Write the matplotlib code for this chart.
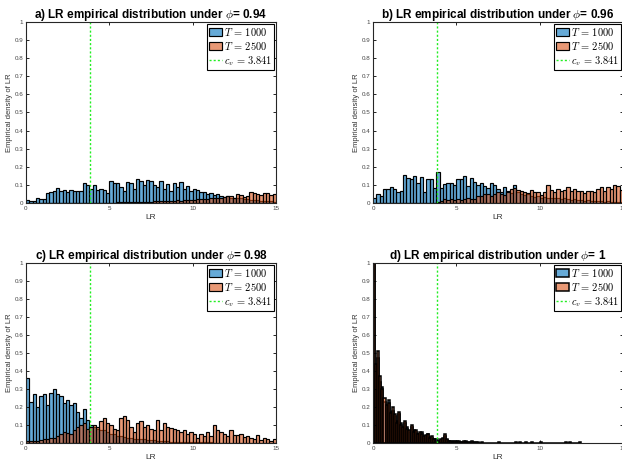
import numpy as np
import matplotlib.pyplot as plt

plt.rcParams['font.family'] = ['Liberation Sans', 'DejaVu Sans']
plt.rcParams['mathtext.fontset'] = 'cm'

# bin width of the histograms (panels a-c, panel d)
bin_w = 0.2
bin_w_d = 0.125
c_v = 3.841

titles = ['a) LR empirical distribution under $\\phi$= 0.94',
          'b) LR empirical distribution under $\\phi$= 0.96',
          'c) LR empirical distribution under $\\phi$= 0.98',
          'd) LR empirical distribution under $\\phi$= 1']

# densities per bin, T = 1000 and T = 2500
a_t1000 = [0.017, 0.013, 0.013, 0.03, 0.024, 0.022, 0.055, 0.06, 0.065, 0.083,
           0.068, 0.072, 0.063, 0.072, 0.065, 0.065, 0.065, 0.11, 0.098, 0.076,
           0.1, 0.074, 0.08, 0.072, 0.054, 0.124, 0.111, 0.109, 0.09, 0.068,
           0.117, 0.109, 0.08, 0.13, 0.124, 0.102, 0.128, 0.124, 0.102, 0.087,
           0.12, 0.08, 0.106, 0.068, 0.109, 0.09, 0.117, 0.076, 0.094, 0.065,
           0.08, 0.072, 0.063, 0.061, 0.05, 0.055, 0.046, 0.05, 0.04, 0.031,
           0.039, 0.03, 0.03, 0.025, 0.027, 0.02, 0.022, 0.018, 0.017, 0.014,
           0.012, 0.013, 0.01, 0.009, 0.008]
a_t2500 = [0.0] * 25 + [
           0.002, 0.002, 0.003, 0.004, 0.004, 0.005, 0.005, 0.006, 0.006, 0.007,
           0.007, 0.008, 0.008, 0.009, 0.01, 0.009, 0.011, 0.012, 0.012, 0.013,
           0.014, 0.013, 0.015, 0.016, 0.018, 0.017, 0.02, 0.022, 0.02, 0.024,
           0.026, 0.028, 0.03, 0.026, 0.034, 0.036, 0.038, 0.028, 0.05, 0.045,
           0.032, 0.038, 0.06, 0.055, 0.05, 0.042, 0.056, 0.055, 0.046, 0.05]

b_t1000 = [0.03, 0.048, 0.04, 0.075, 0.08, 0.09, 0.075, 0.06, 0.065, 0.155,
           0.14, 0.13, 0.15, 0.11, 0.145, 0.06, 0.13, 0.13, 0.085, 0.17,
           0.085, 0.105, 0.11, 0.11, 0.1, 0.13, 0.13, 0.15, 0.095, 0.14,
           0.115, 0.1, 0.11, 0.095, 0.085, 0.11, 0.1, 0.08, 0.06, 0.09,
           0.065, 0.055, 0.1, 0.06, 0.05, 0.045, 0.05, 0.04, 0.035, 0.04,
           0.03, 0.035, 0.03, 0.025, 0.03, 0.025, 0.02, 0.025, 0.02, 0.018,
           0.02, 0.015, 0.015, 0.012, 0.015, 0.012, 0.01, 0.012, 0.01, 0.008,
           0.01, 0.008, 0.007, 0.006, 0.006]
b_t2500 = [0.0] * 19 + [0.005,
           0.01, 0.02, 0.015, 0.02, 0.015, 0.02, 0.015, 0.02, 0.03, 0.02,
           0.02, 0.04, 0.04, 0.05, 0.05, 0.04, 0.05, 0.06, 0.05, 0.045,
           0.06, 0.08, 0.085, 0.07, 0.065, 0.06, 0.055, 0.07, 0.06, 0.06,
           0.045, 0.06, 0.1, 0.07, 0.06, 0.08, 0.065, 0.07, 0.09, 0.065,
           0.075, 0.065, 0.065, 0.055, 0.065, 0.065, 0.06, 0.08, 0.09, 0.065,
           0.09, 0.08, 0.1, 0.095, 0.07]

c_t1000 = [0.36, 0.23, 0.27, 0.2, 0.26, 0.27, 0.21, 0.28, 0.3, 0.27,
           0.26, 0.22, 0.24, 0.21, 0.22, 0.17, 0.14, 0.19, 0.13, 0.1,
           0.09, 0.08, 0.07, 0.07, 0.06, 0.05, 0.05, 0.04, 0.04, 0.035,
           0.03, 0.03, 0.025, 0.025, 0.02, 0.02, 0.018, 0.015, 0.015, 0.012,
           0.012, 0.01, 0.01, 0.008, 0.008, 0.007, 0.006, 0.006, 0.005, 0.005,
           0.004, 0.004, 0.004, 0.003, 0.003, 0.003, 0.002, 0.002, 0.002, 0.002]
c_t2500 = [0.01, 0.012, 0.01, 0.012, 0.015, 0.02, 0.025, 0.03, 0.03, 0.04,
           0.05, 0.06, 0.055, 0.05, 0.075, 0.09, 0.1, 0.11, 0.08, 0.09,
           0.1, 0.09, 0.12, 0.14, 0.11, 0.1, 0.08, 0.07, 0.14, 0.15,
           0.13, 0.09, 0.06, 0.11, 0.12, 0.09, 0.1, 0.08, 0.07, 0.13,
           0.07, 0.11, 0.09, 0.085, 0.08, 0.075, 0.06, 0.07, 0.05, 0.06,
           0.05, 0.03, 0.05, 0.04, 0.06, 0.04, 0.1, 0.07, 0.06, 0.05,
           0.04, 0.07, 0.045, 0.045, 0.05, 0.035, 0.04, 0.03, 0.02, 0.045,
           0.015, 0.03, 0.02, 0.01, 0.02]

d_t1000 = [1.05, 0.43, 0.47, 0.34, 0.31, 0.23, 0.2, 0.24, 0.17, 0.18,
           0.15, 0.12, 0.16, 0.11, 0.08, 0.11, 0.09, 0.06, 0.09, 0.07,
           0.06, 0.05, 0.05, 0.06, 0.03, 0.04, 0.05, 0.035, 0.03, 0.025,
           0.02, 0.01, 0.015, 0.02, 0.04, 0.015, 0.01, 0.005, 0.01, 0.005,
           0.01, 0.005, 0.005, 0.005, 0.01, 0.005, 0.0, 0.005, 0.005, 0.0]
d_t2500 = [1.05, 0.44, 0.51, 0.37, 0.3, 0.25, 0.21, 0.22, 0.165, 0.2,
           0.16, 0.11, 0.17, 0.1, 0.09, 0.12, 0.08, 0.07, 0.1, 0.06,
           0.07, 0.05, 0.06, 0.05, 0.04, 0.045, 0.05, 0.03, 0.04, 0.02,
           0.01, 0.005, 0.02, 0.03, 0.05, 0.02, 0.01, 0.01, 0.005, 0.01,
           0.005, 0.01, 0.005, 0.01, 0.005, 0.0, 0.005, 0.01, 0.0, 0.005,
           0.005, 0.0, 0.008, 0.0, 0.0, 0.0, 0.0, 0.0, 0.0, 0.0,
           0.005, 0.0, 0.0, 0.0, 0.0, 0.0, 0.0, 0.0, 0.005, 0.0,
           0.005, 0.0, 0.0, 0.005, 0.0, 0.0, 0.005, 0.0, 0.0, 0.0,
           0.005, 0.0, 0.0, 0.0, 0.0, 0.0, 0.0, 0.0, 0.0, 0.0,
           0.0, 0.0, 0.005, 0.0, 0.005, 0.0, 0.0, 0.0, 0.0, 0.005]

panels = [(a_t1000, a_t2500, bin_w), (b_t1000, b_t2500, bin_w),
          (c_t1000, c_t2500, bin_w), (d_t1000, d_t2500, bin_w_d)]

blue = (0.0, 0.447, 0.741, 0.6)
orange = (0.85, 0.325, 0.098, 0.6)

fig = plt.figure(figsize=(6.22, 4.61), dpi=100)
W, H = 622, 461
boxes = [(26, 22, 203), (373, 22, 203), (26, 263, 443), (373, 263, 443)]

for (x0, top, bot), (s1, s2, w), title in zip(boxes, panels, titles):
    ax = fig.add_axes([x0 / W, 1 - bot / H, 250 / W, (bot - top) / H])
    e1 = np.arange(len(s1)) * w
    e2 = np.arange(len(s2)) * w
    # narrow bins in panel d: the black edges dominate
    lw = 1.1 if w < bin_w else 0.85
    h1 = ax.bar(e1, s1, width=w, align='edge', color=blue, edgecolor='black',
                linewidth=lw)
    h2 = ax.bar(e2, s2, width=w, align='edge', color=orange, edgecolor='black',
                linewidth=lw)
    h3 = ax.axvline(c_v, color='#22ee22', linestyle=(0, (1.5, 1.5)),
                    linewidth=1.0)
    ax.set_xlim(0, 15)
    ax.set_ylim(0, 1)
    ax.set_xticks([0, 5, 10, 15])
    ax.set_yticks(np.arange(0, 1.01, 0.1))
    ax.set_yticklabels(['0', '0.1', '0.2', '0.3', '0.4', '0.5', '0.6', '0.7',
                        '0.8', '0.9', '1'])
    ax.tick_params(direction='in', top=True, right=True, length=2.5, width=0.6,
                   labelsize=4.5, labelcolor='#444444', pad=2)
    for sp in ax.spines.values():
        sp.set_linewidth(0.8)
        sp.set_color('#262626')
    ax.set_xlabel('LR', fontsize=6, color='#333333', labelpad=2)
    ax.set_ylabel('Empirical density of LR', fontsize=5.5, color='#333333',
                  labelpad=1)
    ax.set_title(title, fontsize=8.5, fontweight='bold', pad=3)
    leg = ax.legend([h1, h2, h3],
                    ['$T\\,=\\,1000$', '$T\\,=\\,2500$', '$c_v\\,=\\,3.841$'],
                    loc='upper right', fontsize=7.5, fancybox=False,
                    framealpha=1, edgecolor='black', borderaxespad=0.15,
                    handlelength=1.3, handletextpad=0.15, borderpad=0.2,
                    labelspacing=0.2)
    leg.get_frame().set_linewidth(0.8)

fig.savefig('out.png', dpi=100)
